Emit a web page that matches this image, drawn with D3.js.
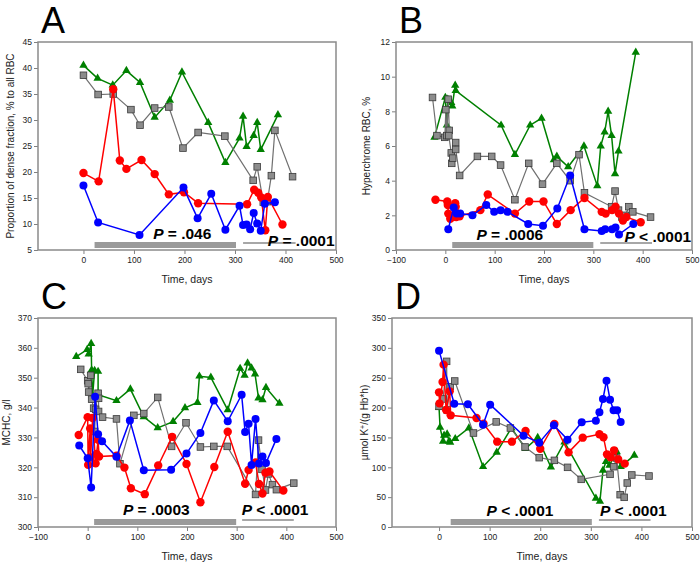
<!DOCTYPE html>
<html>
<head>
<meta charset="utf-8">
<script src="https://cdn.jsdelivr.net/npm/d3@7"></script>
<style>
  body { margin: 0; background: #fff; }
  text { font-family: "Liberation Sans", Arial, sans-serif; }
</style>
</head>
<body>
<svg id="chart" width="700" height="562"></svg>
<script>
// ---- data: [day, value] ----
var aBlue = [[0,17.4],[29,10.3],[111,7.9],[198,17.0],[226,11.1],[253,15.8],[281,8.9],[309,13.5],[316,9.8],[323,9.9],[330,9.0],[337,12.1],[344,10.1],[351,8.7],[359,13.9],[379,14.2]];
var aRed = [[0,19.8],[30,18.2],[59,35.9],[72,22.2],[85,20.6],[115,22.3],[141,19.6],[169,15.7],[199,16.1],[227,14.0],[324,13.8],[338,16.6],[346,16.0],[352,15.1],[360,8.8],[365,15.2],[394,9.9]];
var aGray = [[0,38.6],[29,34.9],[59,35.0],[94,32.0],[112,29.0],[141,32.3],[169,32.5],[197,24.6],[227,27.6],[280,26.9],[336,18.4],[344,21.0],[356,14.2],[364,14.3],[372,19.3],[379,28.0],[414,19.1]];
var aGreen = [[0,40.5],[28,38.0],[58,36.7],[85,39.5],[112,37.2],[141,30.5],[171,33.8],[195,39.2],[247,29.5],[281,21.8],[309,26.5],[316,30.7],[323,24.9],[337,27.0],[344,29.5],[351,24.3],[385,31.0]];

var bBlue = [[6,1.2],[17,2.45],[23,2.1],[30,2.1],[55,2.0],[83,2.6],[99,2.2],[112,2.3],[126,2.2],[168,1.5],[198,1.4],[227,2.4],[253,4.3],[282,1.2],[317,1.1],[324,1.2],[338,1.2],[345,1.3],[352,0.9],[381,1.5]];
var bRed = [[-20,2.9],[4,2.8],[5,2.6],[6,2.1],[10,1.8],[15,1.9],[20,2.7],[21,2.5],[22,1.9],[29,1.95],[71,2.3],[86,3.2],[141,2.1],[170,2.8],[199,2.8],[226,1.5],[254,2.3],[282,3.0],[317,2.2],[325,2.1],[338,2.3],[345,2.5],[352,2.1],[360,1.7],[367,1.9],[396,1.6]];
var bGray = [[-26,8.8],[-17,6.6],[-1,6.5],[1,8.1],[3,6.6],[6,8.7],[8,6.9],[7,6.6],[12,5.6],[13,5.0],[15,5.3],[21,6.2],[21,5.8],[29,4.3],[65,5.4],[94,5.4],[112,4.9],[141,2.9],[169,5.0],[197,3.8],[226,5.0],[253,4.0],[271,5.5],[282,3.3],[337,2.5],[344,3.4],[351,2.3],[358,1.9],[365,2.0],[372,2.5],[380,2.2],[416,1.9]];
var bGreen = [[-22,6.5],[0,8.8],[3,7.2],[5,8.7],[12,8.5],[14,8.3],[20,9.5],[21,9.2],[113,7.2],[141,5.5],[172,7.2],[195,7.6],[220,5.2],[226,5.4],[249,4.8],[281,6.0],[308,3.7],[315,6.0],[323,6.8],[330,8.0],[337,6.6],[344,4.4],[351,5.7],[386,11.4]];

var cBlue = [[-17,327.3],[0,323],[7,313.2],[15,343.6],[21,331.1],[29,328.7],[58,323.5],[85,335.7],[113,319],[168,319.2],[199,324.6],[227,331.5],[254,342.4],[282,335.4],[310,344.3],[317,331.8],[324,334.6],[330,320.8],[338,336.2],[345,321.3],[352,323.6],[359,321.4],[380,329.5]];
var cRed = [[-18,330.8],[0,336.8],[1,320.8],[5,333],[6,323.3],[10,336.5],[16,321.3],[18,324.5],[21,329.2],[23,323.6],[58,323.9],[74,319.9],[87,313],[115,311],[142,320.6],[170,330.2],[199,321.1],[227,308.3],[255,320.1],[282,331.9],[317,314.5],[324,319.1],[338,321.6],[345,314.4],[352,311.2],[358,318.2],[366,318.6],[394,312.2]];
var cGray = [[-14,352.8],[0,349],[1,348],[2,345.2],[6,350.8],[8,342.8],[12,339.8],[14,332],[16,339.4],[21,344.8],[22,343.1],[22,338.7],[30,336.8],[58,336.2],[65,321.2],[93,337.4],[113,338],[141,343.4],[169,327],[198,334.9],[227,326.8],[254,327],[281,327],[338,310.9],[344,329.1],[351,319.3],[358,312.4],[364,317.8],[372,314.2],[380,312.5],[415,314.7]];
var cGreen = [[-23,357.1],[-1,359.4],[2,357.9],[7,361.4],[8,352.6],[10,344],[14,352.4],[21,352.1],[21,344.3],[58,342.3],[86,346.2],[113,336.9],[141,333.2],[172,335.3],[196,339.9],[221,341.7],[225,350.5],[248,350.1],[282,339.2],[307,353.1],[316,350.8],[322,354.9],[330,353.2],[337,351.2],[344,343.2],[352,342.6],[359,346.7],[386,341.4]];

var dBlue = [[0,295.3],[30,206.5],[57,205.4],[87,171.4],[101,204.9],[167,153],[198,141.2],[227,170.3],[254,146.3],[282,175.3],[310,178.1],[317,192],[324,214.4],[331,245.1],[338,213.2],[345,195.4],[352,195.4],[359,175.8]];
var dRed = [[0,225.5],[1,207],[7,242.8],[9,271.9],[14,196],[21,227.2],[23,187],[74,182.5],[88,173],[115,142.9],[144,142.9],[171,160.8],[200,131],[228,172.5],[256,125],[284,149.6],[317,155.2],[325,150.2],[332,121.7],[339,116.7],[346,128.4],[354,113.3],[367,106.1]];
var dGray = [[0,202],[8,214.4],[15,277.4],[16,196],[22,235],[31,244.5],[68,157.4],[113,176],[141,165.8],[170,134],[198,116.1],[228,111.6],[254,99.9],[281,79.8],[338,88.2],[345,101],[351,115.6],[358,54.1],[366,49.7],[372,73.7],[381,87.1],[415,85.4]];
var dGreen = [[0,200],[2,166.9],[8,143.5],[10,153.5],[16,155.7],[20,143.5],[22,141.8],[32,147.9],[59,165.8],[87,101],[114,125],[143,165.8],[171,131.2],[195,149.6],[221,100.5],[248,142.3],[310,48],[318,43],[324,94.9],[330,109.4],[337,103.3],[351,126.2],[359,101],[386,120]];

// ticks
var xTicks0 = [0, 100, 200, 300, 400, 500];
var xTicks100 = [-100, 0, 100, 200, 300, 400, 500];
var yTicksA = [5, 10, 15, 20, 25, 30, 35, 40, 45];
var yTicksB = [0, 2, 4, 6, 8, 10, 12];
var yTicksC = [300, 310, 320, 330, 340, 350, 360, 370];
var yTicksD = [0, 50, 100, 150, 200, 250, 300, 350];

// P-value annotations: [text after P, start day]
var pTextsA = [[" = .046", 138], [" = .0001", 365]];
var pTextsB = [[" = .0006", 63], [" < .0001", 363]];
var pTextsC = [[" = .0003", 71], [" < .0001", 310]];
var pTextsD = [[" < .0001", 94], [" < .0001", 318]];
// intervals [start, end] in days: thick bar, thin line
var barsA = [[22, 302], [316, 420]];
var barsB = [[14, 300], [314, 419]];
var barsC = [[13, 299], [311, 415]];
var barsD = [[23, 302], [316, 418]];

var svg = d3.select("#chart");

var panels = [
  { letter: "A", left: 38, right: 336, top: 42, bottom: 250, xDomain: [-90, 500], yDomain: [5, 45],
    xTicks: xTicks0, yTicks: yTicksA, title: "Proportion of dense fraction, % to all RBC", titleX: 10,
    blue: aBlue, red: aRed, gray: aGray, green: aGreen, pTexts: pTextsA, pUp: [11, 4.5], bars: barsA },
  { letter: "B", left: 396, right: 692, top: 42, bottom: 250, xDomain: [-100, 500], yDomain: [0, 12],
    xTicks: xTicks100, yTicks: yTicksB, title: "Hyperchrome RBC, %", titleX: 366,
    blue: bBlue, red: bRed, gray: bGray, green: bGreen, pTexts: pTextsB, pUp: [10, 8.3], bars: barsB },
  { letter: "C", left: 38, right: 336, top: 318, bottom: 527, xDomain: [-100, 500], yDomain: [300, 370],
    xTicks: xTicks100, yTicks: yTicksC, title: "MCHC, g/l", titleX: 6,
    blue: cBlue, red: cRed, gray: cGray, green: cGreen, pTexts: pTextsC, pUp: [12, 12], bars: barsC },
  { letter: "D", left: 392, right: 692, top: 318, bottom: 527, xDomain: [-93, 500], yDomain: [0, 350],
    xTicks: xTicks0, yTicks: yTicksD, title: null, titleX: 364,
    blue: dBlue, red: dRed, gray: dGray, green: dGreen, pTexts: pTextsD, pUp: [11.5, 11], bars: barsD }
];

panels.forEach(function(p) {
  var x = d3.scaleLinear().domain(p.xDomain).range([p.left, p.right]);
  var y = d3.scaleLinear().domain(p.yDomain).range([p.bottom, p.top]);
  var g = svg.append("g");

  // panel letter
  g.append("text")
    .attr("x", p.left + 3)
    .attr("y", p.top - 9)
    .attr("font-size", 36)
    .text(p.letter);

  // axes
  var xa = g.append("g")
    .attr("transform", "translate(0," + p.bottom + ")")
    .call(d3.axisBottom(x).tickValues(p.xTicks).tickSize(4).tickPadding(3));
  var ya = g.append("g")
    .attr("transform", "translate(" + p.left + ",0)")
    .call(d3.axisLeft(y).tickValues(p.yTicks).tickSize(4).tickPadding(2));
  [xa, ya].forEach(function(a) {
    a.select(".domain").remove();
    a.selectAll("line").attr("stroke", "#808080");
    a.selectAll("text").attr("font-size", 8.5).attr("fill", "#222")
      .style("font-family", "'Liberation Sans', Arial, sans-serif");
  });

  // frame
  g.append("rect")
    .attr("x", p.left).attr("y", p.top)
    .attr("width", p.right - p.left).attr("height", p.bottom - p.top)
    .attr("fill", "none").attr("stroke", "#8a8a8a").attr("stroke-width", 1.5);

  // axis titles
  g.append("text")
    .attr("x", (p.left + p.right) / 2)
    .attr("y", p.bottom + 33)
    .attr("text-anchor", "middle")
    .attr("font-size", 10.5)
    .attr("fill", "#222")
    .text("Time, days");

  var yt = g.append("text")
    .attr("transform", "translate(" + p.titleX + "," + (p.top + p.bottom) / 2 + ") rotate(-90)")
    .attr("text-anchor", "middle")
    .attr("dy", "0.35em")
    .attr("font-size", 10)
    .attr("fill", "#222");
  if (p.title) {
    yt.text(p.title);
  } else {
    yt.append("tspan").text("\u00b5mol K");
    yt.append("tspan").attr("baseline-shift", "super").attr("font-size", 7).text("+");
    yt.append("tspan").text("/(g Hb*h)");
  }

  // significance bars
  g.append("rect")
    .attr("x", x(p.bars[0][0]))
    .attr("y", p.bottom - 8)
    .attr("width", x(p.bars[0][1]) - x(p.bars[0][0]))
    .attr("height", 6)
    .attr("fill", "#9a9a9a");
  g.append("line")
    .attr("x1", x(p.bars[1][0])).attr("x2", x(p.bars[1][1]))
    .attr("y1", p.bottom - 7).attr("y2", p.bottom - 7)
    .attr("stroke", "#8a8a8a").attr("stroke-width", 1.5);

  // series
  var line = d3.line().x(function(d) { return x(d[0]); }).y(function(d) { return y(d[1]); });

  g.append("path").attr("d", line(p.green)).attr("fill", "none").attr("stroke", "#008000").attr("stroke-width", 1.5);
  g.selectAll(".tri").data(p.green).enter().append("path")
    .attr("class", "tri")
    .attr("d", d3.symbol().type(d3.symbolTriangle).size(30))
    .attr("transform", function(d) { return "translate(" + x(d[0]) + "," + y(d[1]) + ")"; })
    .attr("fill", "#008000");

  g.append("path").attr("d", line(p.gray)).attr("fill", "none").attr("stroke", "#707070").attr("stroke-width", 1.2);
  g.selectAll(".sq").data(p.gray).enter().append("rect")
    .attr("class", "sq")
    .attr("x", function(d) { return x(d[0]) - 3.3; })
    .attr("y", function(d) { return y(d[1]) - 3.3; })
    .attr("width", 6.6).attr("height", 6.6)
    .attr("fill", "#8c8c8c").attr("stroke", "#3a3a3a").attr("stroke-width", 0.8);

  g.append("path").attr("d", line(p.red)).attr("fill", "none").attr("stroke", "#ff0000").attr("stroke-width", 1.5);
  g.selectAll(".rd").data(p.red).enter().append("circle")
    .attr("class", "rd")
    .attr("cx", function(d) { return x(d[0]); })
    .attr("cy", function(d) { return y(d[1]); })
    .attr("r", 4.2).attr("fill", "#ff0000");

  g.append("path").attr("d", line(p.blue)).attr("fill", "none").attr("stroke", "#0000ff").attr("stroke-width", 1.5);
  g.selectAll(".bl").data(p.blue).enter().append("circle")
    .attr("class", "bl")
    .attr("cx", function(d) { return x(d[0]); })
    .attr("cy", function(d) { return y(d[1]); })
    .attr("r", 4).attr("fill", "#0000ff");

  // P-value texts
  p.pTexts.forEach(function(t, i) {
    var tx = g.append("text")
      .attr("x", x(t[1]))
      .attr("y", p.bottom - p.pUp[i])
      .attr("font-size", 15.5)
      .attr("font-weight", "bold")
      .attr("fill", "#000");
    tx.append("tspan").attr("font-style", "italic").text("P");
    tx.append("tspan").text(t[0]);
  });
});
</script>
</body>
</html>
